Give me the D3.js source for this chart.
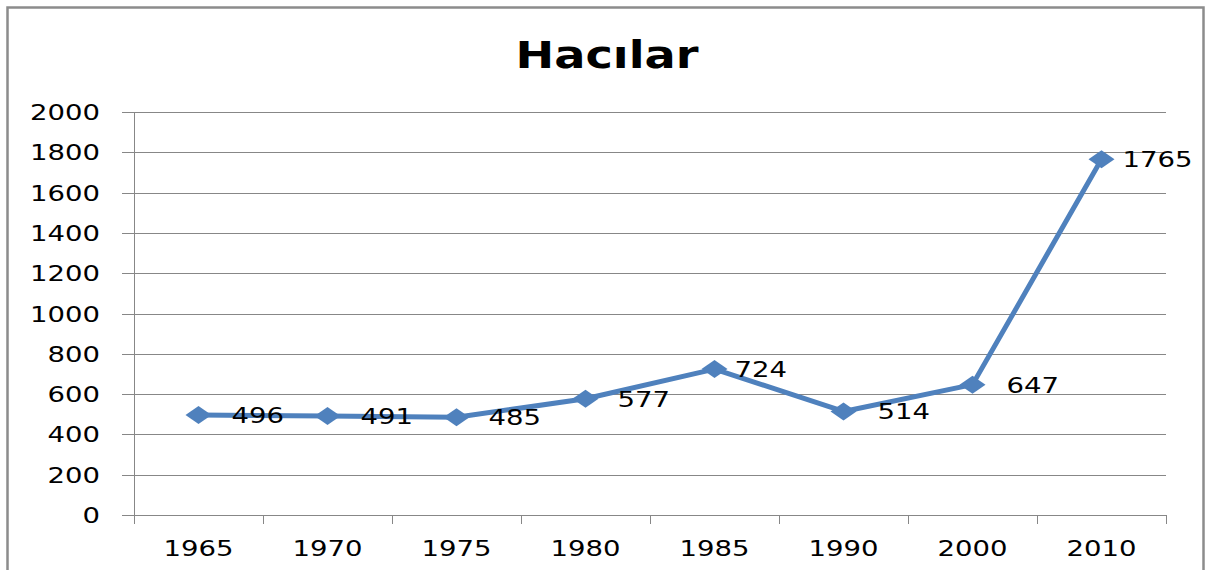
<!DOCTYPE html>
<html>
<head>
<meta charset="utf-8">
<script src="https://cdn.jsdelivr.net/npm/d3@7"></script>
<style>
  body { margin: 0; background: #fff; }
  svg { display: block; }
</style>
</head>
<body>
<div id="canvas"></div>
<script>
// chart data
const title = "Hacılar";
const years = ["1965", "1970", "1975", "1980", "1985", "1990", "2000", "2010"];
const population = [496, 491, 485, 577, 724, 514, 647, 1765];
const yTicks = [0, 200, 400, 600, 800, 1000, 1200, 1400, 1600, 1800, 2000];

const width = 1207, height = 570;
const plot = { left: 134, right: 1166, top: 112, bottom: 515 };
const blue = "#4f81bd";
const grid = "#878787";
const font = "DejaVu Sans, Verdana, sans-serif";
const stretch = 1.25; // the reference text is wide

const svg = d3.select("#canvas")
    .append("svg")
    .attr("width", width)
    .attr("height", height);

svg.append("rect")
    .attr("width", width).attr("height", height)
    .attr("fill", "#fff");

// outer frame (bottom edge falls off the picture)
svg.append("rect")
    .attr("x", 7.5).attr("y", 7.5)
    .attr("width", 1196).attr("height", 600)
    .attr("fill", "none")
    .attr("stroke", "#8c8c8c")
    .attr("stroke-width", 2.5);

const x = d3.scaleBand()
    .domain(years)
    .range([plot.left, plot.right]);

const y = d3.scaleLinear()
    .domain([0, 2000])
    .range([plot.bottom, plot.top]);

// helper for horizontally stretched text
function wideText(g, px, py, str, size, anchor, weight) {
    return g.append("text")
        .attr("transform", `translate(${px},${py}) scale(${stretch},1)`)
        .attr("text-anchor", anchor)
        .attr("font-family", font)
        .attr("font-size", size)
        .attr("font-weight", weight || "normal")
        .attr("fill", "#000")
        .text(str);
}

// gridlines + y labels
const gy = svg.append("g");
yTicks.forEach(t => {
    gy.append("line")
        .attr("x1", plot.left - 12).attr("x2", plot.right)
        .attr("y1", Math.round(y(t)) + 0.5).attr("y2", Math.round(y(t)) + 0.5)
        .attr("stroke", grid).attr("stroke-width", 1);
    wideText(gy, 100, y(t) + 8, t, 22, "end");
});

// y axis line
svg.append("line")
    .attr("x1", plot.left + 0.5).attr("x2", plot.left + 0.5)
    .attr("y1", plot.top).attr("y2", plot.bottom + 9)
    .attr("stroke", grid);

// x tick marks at band edges
const gx = svg.append("g");
years.concat([null]).forEach((yr, i) => {
    const px = yr ? x(yr) : plot.right;
    gx.append("line")
        .attr("x1", Math.round(px) + 0.5).attr("x2", Math.round(px) + 0.5)
        .attr("y1", plot.bottom).attr("y2", plot.bottom + 9)
        .attr("stroke", grid);
});
years.forEach(yr => {
    wideText(gx, x(yr) + x.bandwidth() / 2, 556, yr, 22, "middle");
});

// line
const line = d3.line()
    .x((d, i) => x(years[i]) + x.bandwidth() / 2)
    .y(d => y(d));

svg.append("path")
    .datum(population)
    .attr("d", line)
    .attr("fill", "none")
    .attr("stroke", blue)
    .attr("stroke-width", 5)
    .attr("stroke-linejoin", "round");

// diamond markers
svg.append("g")
    .selectAll("path")
    .data(population)
    .join("path")
    .attr("transform", (d, i) => `translate(${x(years[i]) + x.bandwidth() / 2},${y(d)})`)
    .attr("d", "M-13,0L0,-9L13,0L0,9Z")
    .attr("fill", blue);

// value labels, right of each point
const labelGap = [33, 33, 32, 32, 20, 34, 34, 21];
const gl = svg.append("g");
population.forEach((v, i) => {
    wideText(gl, x(years[i]) + x.bandwidth() / 2 + labelGap[i], y(v) + 8, v, 22, "start");
});

// title
wideText(svg, 607, 68, title, 37, "middle", "bold");
</script>
</body>
</html>
